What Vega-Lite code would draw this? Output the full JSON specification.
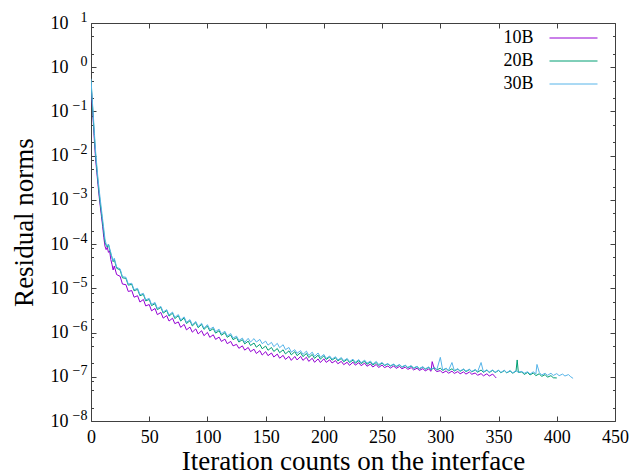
{
"$schema": "https://vega.github.io/schema/vega-lite/v6.json",
"width": 524, "height": 398,
"autosize": "none",
"padding": {"left": 91, "top": 23, "right": 28, "bottom": 54},
"background": "white",
"config": {"view": {"stroke": null}, "font": "Liberation Serif",
 "axis": {"grid": false, "domainColor": "#404040", "tickColor": "#404040", "labelColor": "black", "titleColor": "black", "labelFont": "Liberation Serif", "titleFont": "Liberation Serif", "titleFontWeight": "normal", "labelFontSize": 18, "titleFontSize": 27, "labelFlush": false, "labelOverlap": false}},
"data": {"values": [
{"x":0,"10B":0.45,"20B":0.5,"30B":0.55},
{"x":1,"10B":0.15,"20B":0.18,"30B":0.2},
{"x":2,"10B":0.055,"20B":0.065,"30B":0.08},
{"x":3,"10B":0.02,"20B":0.025,"30B":0.03},
{"x":4,"10B":0.008,"20B":0.01,"30B":0.012},
{"x":5,"10B":0.0042,"20B":0.005,"30B":0.006},
{"x":6,"10B":0.0022,"20B":0.0026,"30B":0.003},
{"x":7,"10B":0.0012,"20B":0.0014,"30B":0.0017},
{"x":8,"10B":0.0007,"20B":0.0008,"30B":0.001},
{"x":9,"10B":0.00042,"20B":0.0005,"30B":0.0006},
{"x":10,"10B":0.00025,"20B":0.0003,"30B":0.00036},
{"x":11,"10B":0.00014,"20B":0.00018,"30B":0.00022},
{"x":12,"10B":9e-5,"20B":0.00011,"30B":0.00013},
{"x":13,"10B":7.5e-5,"20B":9.5e-5,"30B":0.0001},
{"x":14,"10B":8.5e-5,"20B":8.5e-5,"30B":9e-5},
{"x":15,"10B":6.5e-5,"20B":0.0001,"30B":0.0001},
{"x":16,"10B":7e-5,"20B":7.5e-5,"30B":8e-5},
{"x":17,"10B":4.5e-5,"20B":6e-5,"30B":6.5e-5},
{"x":18,"10B":3.5e-5,"20B":5e-5,"30B":5e-5},
{"x":19,"10B":2.6e-5,"20B":4e-5,"30B":4.2e-5},
{"x":20,"10B":3.2e-5,"20B":4.5e-5,"30B":4.8e-5},
{"x":22,"10B":2.05e-5,"20B":2.85e-5,"30B":3.0e-5},
{"x":25,"10B":1.87e-5,"20B":2.6e-5,"30B":2.75e-5},
{"x":27,"10B":1.25e-5,"20B":1.73e-5,"30B":1.83e-5},
{"x":30,"10B":1.21e-5,"20B":1.68e-5,"30B":1.78e-5},
{"x":32,"10B":8.5e-6,"20B":1.18e-5,"30B":1.25e-5},
{"x":35,"10B":8.9e-6,"20B":1.23e-5,"30B":1.3e-5},
{"x":37,"10B":6.3e-6,"20B":8.8e-6,"30B":9.3e-6},
{"x":40,"10B":6.8e-6,"20B":9.5e-6,"30B":1.0e-5},
{"x":42,"10B":4.9e-6,"20B":6.8e-6,"30B":7.2e-6},
{"x":45,"10B":5.6e-6,"20B":7.3e-6,"30B":7.7e-6},
{"x":47,"10B":4.0e-6,"20B":5.2e-6,"30B":5.5e-6},
{"x":50,"10B":4.3e-6,"20B":5.6e-6,"30B":5.9e-6},
{"x":52,"10B":3.1e-6,"20B":4.07e-6,"30B":4.3e-6},
{"x":55,"10B":3.5e-6,"20B":4.5e-6,"30B":4.8e-6},
{"x":57,"10B":2.54e-6,"20B":3.3e-6,"30B":3.5e-6},
{"x":60,"10B":2.85e-6,"20B":3.7e-6,"30B":3.9e-6},
{"x":62,"10B":2.12e-6,"20B":2.75e-6,"30B":2.9e-6},
{"x":65,"10B":2.42e-6,"20B":3.14e-6,"30B":3.3e-6},
{"x":67,"10B":1.82e-6,"20B":2.36e-6,"30B":2.5e-6},
{"x":70,"10B":2.11e-6,"20B":2.74e-6,"30B":2.9e-6},
{"x":72,"10B":1.59e-6,"20B":2.07e-6,"30B":2.2e-6},
{"x":75,"10B":1.74e-6,"20B":2.41e-6,"30B":2.55e-6},
{"x":77,"10B":1.31e-6,"20B":1.82e-6,"30B":1.93e-6},
{"x":80,"10B":1.53e-6,"20B":2.13e-6,"30B":2.26e-6},
{"x":82,"10B":1.15e-6,"20B":1.6e-6,"30B":1.7e-6},
{"x":85,"10B":1.33e-6,"20B":1.85e-6,"30B":1.96e-6},
{"x":87,"10B":1.02e-6,"20B":1.41e-6,"30B":1.49e-6},
{"x":90,"10B":1.21e-6,"20B":1.68e-6,"30B":1.78e-6},
{"x":92,"10B":9.3e-7,"20B":1.29e-6,"30B":1.37e-6},
{"x":95,"10B":1.1e-6,"20B":1.53e-6,"30B":1.62e-6},
{"x":97,"10B":8.5e-7,"20B":1.18e-6,"30B":1.25e-6},
{"x":100,"10B":1.01e-6,"20B":1.4e-6,"30B":1.51e-6},
{"x":102,"10B":7.8e-7,"20B":1.09e-6,"30B":1.18e-6},
{"x":105,"10B":8.9e-7,"20B":1.23e-6,"30B":1.33e-6},
{"x":107,"10B":7.0e-7,"20B":9.7e-7,"30B":1.05e-6},
{"x":110,"10B":7.9e-7,"20B":1.1e-6,"30B":1.19e-6},
{"x":112,"10B":6.3e-7,"20B":8.7e-7,"30B":9.4e-7},
{"x":115,"10B":7.1e-7,"20B":9.9e-7,"30B":1.07e-6},
{"x":117,"10B":5.6e-7,"20B":7.8e-7,"30B":8.4e-7},
{"x":120,"10B":6.3e-7,"20B":8.8e-7,"30B":9.5e-7},
{"x":122,"10B":5.0e-7,"20B":6.9e-7,"30B":7.5e-7},
{"x":125,"10B":5.4e-7,"20B":7.7e-7,"30B":8.3e-7},
{"x":127,"10B":4.4e-7,"20B":6.1e-7,"30B":6.6e-7},
{"x":130,"10B":5.0e-7,"20B":6.9e-7,"30B":7.5e-7},
{"x":132,"10B":4.0e-7,"20B":5.55e-7,"30B":6.0e-7},
{"x":135,"10B":4.6e-7,"20B":6.4e-7,"30B":7.4e-7},
{"x":137,"10B":3.7e-7,"20B":5.1e-7,"30B":6.1e-7},
{"x":140,"10B":4.2e-7,"20B":5.8e-7,"30B":7.3e-7},
{"x":142,"10B":3.36e-7,"20B":4.67e-7,"30B":6.1e-7},
{"x":145,"10B":3.9e-7,"20B":5.4e-7,"30B":7.0e-7},
{"x":147,"10B":3.1e-7,"20B":4.3e-7,"30B":5.6e-7},
{"x":150,"10B":3.7e-7,"20B":4.95e-7,"30B":6.4e-7},
{"x":152,"10B":3.0e-7,"20B":3.98e-7,"30B":5.2e-7},
{"x":155,"10B":3.45e-7,"20B":4.6e-7,"30B":6.0e-7},
{"x":157,"10B":2.8e-7,"20B":3.73e-7,"30B":4.8e-7},
{"x":160,"10B":3.26e-7,"20B":4.35e-7,"30B":5.7e-7},
{"x":162,"10B":2.63e-7,"20B":3.5e-7,"30B":4.55e-7},
{"x":165,"10B":3.05e-7,"20B":4.07e-7,"30B":5.3e-7},
{"x":167,"10B":2.47e-7,"20B":3.29e-7,"30B":4.1e-7},
{"x":170,"10B":2.89e-7,"20B":3.85e-7,"30B":4.6e-7},
{"x":172,"10B":2.35e-7,"20B":3.13e-7,"30B":3.6e-7},
{"x":175,"10B":2.88e-7,"20B":3.69e-7,"30B":4.1e-7},
{"x":177,"10B":2.4e-7,"20B":3.0e-7,"30B":3.4e-7},
{"x":180,"10B":2.89e-7,"20B":3.52e-7,"30B":3.9e-7},
{"x":182,"10B":2.35e-7,"20B":2.86e-7,"30B":3.2e-7},
{"x":185,"10B":2.76e-7,"20B":3.36e-7,"30B":3.8e-7},
{"x":187,"10B":2.23e-7,"20B":2.72e-7,"30B":3.05e-7},
{"x":190,"10B":2.62e-7,"20B":3.19e-7,"30B":3.6e-7},
{"x":192,"10B":2.13e-7,"20B":2.6e-7,"30B":2.9e-7},
{"x":195,"10B":2.53e-7,"20B":3.08e-7,"30B":3.45e-7},
{"x":197,"10B":2.1e-7,"20B":2.51e-7,"30B":2.76e-7},
{"x":200,"10B":2.55e-7,"20B":2.97e-7,"30B":3.2e-7},
{"x":202,"10B":2.12e-7,"20B":2.47e-7,"30B":2.6e-7},
{"x":205,"10B":2.42e-7,"20B":2.81e-7,"30B":2.95e-7},
{"x":207,"10B":2.05e-7,"20B":2.38e-7,"30B":2.5e-7},
{"x":210,"10B":2.32e-7,"20B":2.7e-7,"30B":2.84e-7},
{"x":212,"10B":1.97e-7,"20B":2.29e-7,"30B":2.4e-7},
{"x":215,"10B":2.23e-7,"20B":2.59e-7,"30B":2.72e-7},
{"x":217,"10B":1.88e-7,"20B":2.19e-7,"30B":2.3e-7},
{"x":220,"10B":2.13e-7,"20B":2.48e-7,"30B":2.6e-7},
{"x":222,"10B":1.81e-7,"20B":2.1e-7,"30B":2.2e-7},
{"x":225,"10B":2.14e-7,"20B":2.38e-7,"30B":2.5e-7},
{"x":227,"10B":1.83e-7,"20B":2.03e-7,"30B":2.13e-7},
{"x":230,"10B":2.09e-7,"20B":2.32e-7,"30B":2.44e-7},
{"x":232,"10B":1.78e-7,"20B":1.98e-7,"30B":2.08e-7},
{"x":235,"10B":2.04e-7,"20B":2.27e-7,"30B":2.38e-7},
{"x":237,"10B":1.73e-7,"20B":1.92e-7,"30B":2.02e-7},
{"x":240,"10B":1.94e-7,"20B":2.16e-7,"30B":2.27e-7},
{"x":242,"10B":1.66e-7,"20B":1.84e-7,"30B":1.93e-7},
{"x":245,"10B":1.9e-7,"20B":2.11e-7,"30B":2.22e-7},
{"x":247,"10B":1.62e-7,"20B":1.8e-7,"30B":1.89e-7},
{"x":250,"10B":1.85e-7,"20B":2.05e-7,"30B":2.11e-7},
{"x":252,"10B":1.61e-7,"20B":1.79e-7,"30B":1.83e-7},
{"x":255,"10B":1.76e-7,"20B":1.96e-7,"30B":2.0e-7},
{"x":257,"10B":1.57e-7,"20B":1.74e-7,"30B":1.77e-7},
{"x":260,"10B":1.76e-7,"20B":1.91e-7,"30B":1.95e-7},
{"x":262,"10B":1.55e-7,"20B":1.69e-7,"30B":1.72e-7},
{"x":265,"10B":1.71e-7,"20B":1.86e-7,"30B":1.9e-7},
{"x":267,"10B":1.52e-7,"20B":1.65e-7,"30B":1.68e-7},
{"x":270,"10B":1.66e-7,"20B":1.8e-7,"30B":1.84e-7},
{"x":272,"10B":1.47e-7,"20B":1.6e-7,"30B":1.63e-7},
{"x":275,"10B":1.61e-7,"20B":1.75e-7,"30B":1.79e-7},
{"x":277,"10B":1.43e-7,"20B":1.55e-7,"30B":1.58e-7},
{"x":280,"10B":1.56e-7,"20B":1.7e-7,"30B":1.73e-7},
{"x":282,"10B":1.39e-7,"20B":1.51e-7,"30B":1.54e-7},
{"x":285,"10B":1.53e-7,"20B":1.66e-7,"30B":1.69e-7},
{"x":287,"10B":1.36e-7,"20B":1.48e-7,"30B":1.51e-7},
{"x":290,"10B":1.5e-7,"20B":1.63e-7,"30B":1.66e-7},
{"x":292,"10B":1.33e-7,"20B":1.45e-7,"30B":1.48e-7},
{"x":293,"10B":2.2e-7},
{"x":295,"10B":1.47e-7,"20B":1.6e-7,"30B":1.63e-7},
{"x":297,"10B":1.31e-7,"20B":1.42e-7,"30B":1.45e-7},
{"x":300,"10B":1.38e-7,"20B":1.57e-7,"30B":2.75e-7},
{"x":302,"10B":1.22e-7,"20B":1.39e-7,"30B":1.42e-7},
{"x":305,"10B":1.36e-7,"20B":1.54e-7,"30B":1.57e-7},
{"x":307,"10B":1.2e-7,"20B":1.36e-7,"30B":1.39e-7},
{"x":310,"10B":1.34e-7,"20B":1.52e-7,"30B":2.1e-7},
{"x":312,"10B":1.19e-7,"20B":1.35e-7,"30B":1.38e-7},
{"x":315,"10B":1.31e-7,"20B":1.49e-7,"30B":1.52e-7},
{"x":317,"10B":1.17e-7,"20B":1.33e-7,"30B":1.36e-7},
{"x":320,"10B":1.29e-7,"20B":1.47e-7,"30B":1.5e-7},
{"x":322,"10B":1.15e-7,"20B":1.31e-7,"30B":1.34e-7},
{"x":325,"10B":1.28e-7,"20B":1.45e-7,"30B":1.48e-7},
{"x":327,"10B":1.14e-7,"20B":1.29e-7,"30B":1.32e-7},
{"x":330,"10B":1.22e-7,"20B":1.43e-7,"30B":1.46e-7},
{"x":332,"10B":1.08e-7,"20B":1.27e-7,"30B":1.3e-7},
{"x":335,"10B":1.18e-7,"20B":1.42e-7,"30B":2.1e-7},
{"x":337,"10B":1.05e-7,"20B":1.26e-7,"30B":1.29e-7},
{"x":340,"10B":1.17e-7,"20B":1.41e-7,"30B":1.44e-7},
{"x":342,"10B":1.04e-7,"20B":1.25e-7,"30B":1.28e-7},
{"x":345,"10B":1.15e-7,"20B":1.4e-7,"30B":1.43e-7},
{"x":347,"10B":1.0e-7,"20B":1.24e-7,"30B":1.26e-7},
{"x":348,"10B":9.4e-8},
{"x":350,"20B":1.39e-7,"30B":1.42e-7},
{"x":352,"20B":1.23e-7,"30B":1.25e-7},
{"x":355,"20B":1.38e-7,"30B":1.41e-7},
{"x":357,"20B":1.22e-7,"30B":1.24e-7},
{"x":360,"20B":1.36e-7,"30B":1.39e-7},
{"x":362,"20B":1.2e-7,"30B":1.22e-7},
{"x":365,"20B":1.34e-7,"30B":1.37e-7},
{"x":366,"20B":2.4e-7},
{"x":367,"20B":1.25e-7,"30B":1.27e-7},
{"x":370,"20B":1.29e-7,"30B":1.32e-7},
{"x":372,"20B":1.13e-7,"30B":1.2e-7},
{"x":375,"20B":1.25e-7,"30B":1.3e-7},
{"x":377,"20B":1.1e-7,"30B":1.15e-7},
{"x":380,"20B":1.22e-7,"30B":1.3e-7},
{"x":382,"20B":1.06e-7,"30B":1.15e-7},
{"x":383,"30B":1.9e-7},
{"x":385,"20B":1.17e-7,"30B":1.25e-7},
{"x":387,"20B":1.02e-7,"30B":1.1e-7},
{"x":390,"20B":1.12e-7,"30B":1.2e-7},
{"x":392,"20B":9.8e-8,"30B":1.08e-7},
{"x":395,"20B":1.06e-7,"30B":1.2e-7},
{"x":397,"20B":9.5e-8,"30B":1.07e-7},
{"x":400,"20B":9.4e-8,"30B":1.18e-7},
{"x":402,"30B":1.06e-7},
{"x":405,"30B":1.15e-7},
{"x":407,"30B":1.04e-7},
{"x":410,"30B":1.12e-7},
{"x":412,"30B":1.0e-7},
{"x":414,"30B":9.2e-8}
]},
"transform": [{"fold": ["10B", "20B", "30B"], "as": ["k", "v"]}, {"filter": "isValid(datum.v)"}],
"layer": [
 {"mark": {"type": "line", "strokeWidth": 1, "clip": true},
  "encoding": {
   "x": {"field": "x", "type": "quantitative", "scale": {"domain": [0, 450], "nice": false},
     "axis": {"orient": "bottom", "values": [0,50,100,150,200,250,300,350,400,450], "tickSize": -5, "labelPadding": 12, "title": "Iteration counts on the interface", "titlePadding": 2}},
   "y": {"field": "v", "type": "quantitative", "scale": {"type": "log", "domain": [1e-8, 10], "nice": false},
     "axis": {"orient": "left", "values": [1e-8,1e-7,1e-6,1e-5,1e-4,1e-3,1e-2,1e-1,1,10], "labelExpr": "'10'", "tickSize": -5, "labelPadding": 28, "title": "Residual norms", "titlePadding": 12}},
   "color": {"field": "k", "type": "nominal", "scale": {"domain": ["10B", "20B", "30B"], "range": ["#9400d3", "#009e73", "#56b4e9"]},
     "legend": {"orient": "none", "legendX": 473.5, "legendY": 6, "title": null, "symbolType": "M-4,0H4", "symbolSize": 144, "symbolStrokeWidth": 1, "labelFontSize": 18, "labelFont": "Liberation Serif", "labelColor": "black", "labelAlign": "right", "labelOffset": -49, "rowPadding": 5, "padding": 0}}
  }},
 {"mark": {"type": "point", "opacity": 0},
  "encoding": {
   "x": {"field": "x", "type": "quantitative", "scale": {"domain": [0, 450], "nice": false},
     "axis": {"orient": "top", "values": [0,50,100,150,200,250,300,350,400,450], "tickSize": -5, "labels": false, "title": null}},
   "y": {"field": "v", "type": "quantitative", "scale": {"type": "log", "domain": [1e-8, 10], "nice": false},
     "axis": {"orient": "right", "values": [1e-8,1e-7,1e-6,1e-5,1e-4,1e-3,1e-2,1e-1,1,10], "tickSize": -5, "labels": false, "title": null}}
  }},
 {"mark": {"type": "point", "opacity": 0},
  "encoding": {
   "x": {"field": "x", "type": "quantitative", "scale": {"domain": [0, 450], "nice": false}, "axis": null},
   "y": {"field": "v", "type": "quantitative", "scale": {"type": "log", "domain": [1e-8, 10], "nice": false},
     "axis": {"orient": "left", "values": [2e-8,5e-8,8e-8,2e-7,5e-7,8e-7,2e-6,5e-6,8e-6,2e-5,5e-5,8e-5,2e-4,5e-4,8e-4,2e-3,5e-3,8e-3,2e-2,5e-2,8e-2,0.2,0.5,0.8,2,5,8], "tickSize": -2.5, "labels": false, "domain": false, "title": null}}
  }},
 {"mark": {"type": "point", "opacity": 0},
  "encoding": {
   "x": {"field": "x", "type": "quantitative", "scale": {"domain": [0, 450], "nice": false}, "axis": null},
   "y": {"field": "v", "type": "quantitative", "scale": {"type": "log", "domain": [1e-8, 10], "nice": false},
     "axis": {"orient": "right", "values": [2e-8,5e-8,2e-7,5e-7,2e-6,5e-6,2e-5,5e-5,2e-4,5e-4,2e-3,5e-3,2e-2,5e-2,0.2,0.5,2,5], "tickSize": -2.5, "labels": false, "domain": false, "title": null}}
  }},
 {"mark": {"type": "point", "opacity": 0},
  "encoding": {
   "x": {"field": "x", "type": "quantitative", "scale": {"domain": [0, 450], "nice": false}, "axis": null},
   "y": {"field": "v", "type": "quantitative", "scale": {"type": "log", "domain": [1e-8, 10], "nice": false},
     "axis": {"orient": "left", "values": [1e-8,1e-7,1e-6,1e-5,1e-4,1e-3,1e-2,1e-1,1,10], "labelExpr": "['−8','−7','−6','−5','−4','−3','−2','−1','0','1'][round(log(datum.value)/LN10)+8]", "labelFontSize": 14, "labelOffset": -6, "ticks": false, "domain": false, "labelPadding": 4, "title": null}}
  }}
],
"resolve": {"axis": {"x": "independent", "y": "independent"}}
}
